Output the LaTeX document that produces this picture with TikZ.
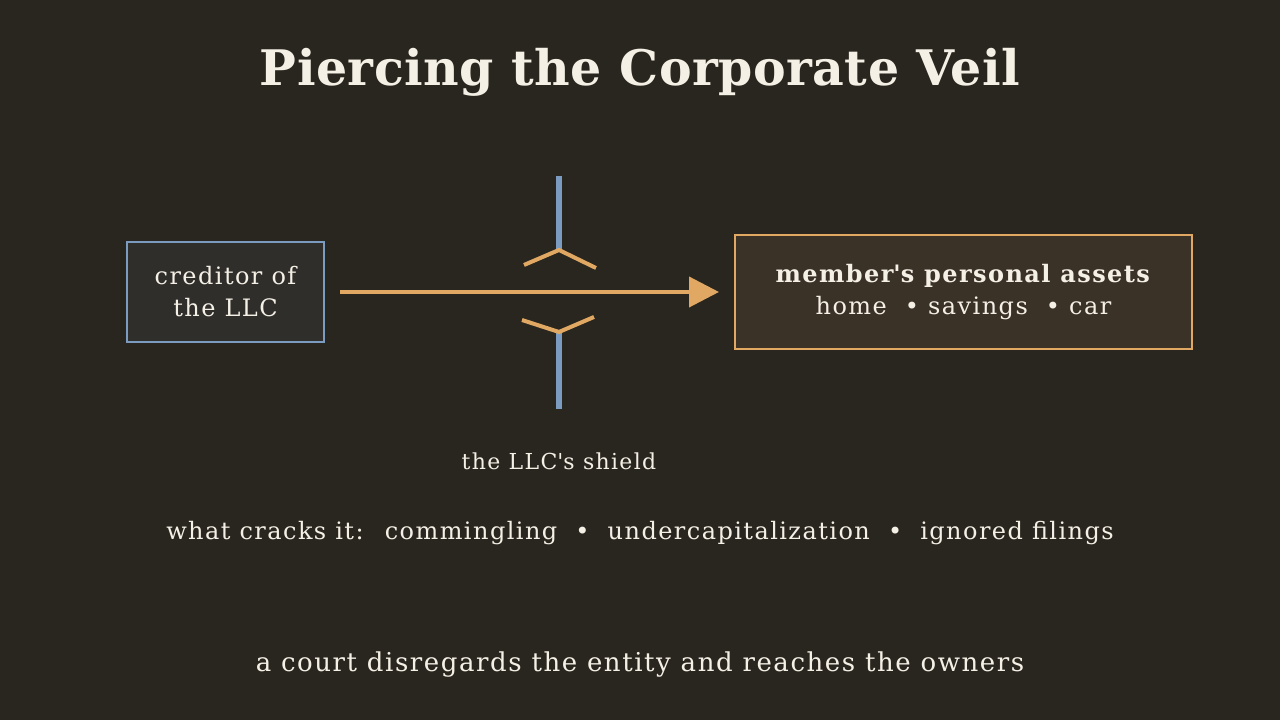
\documentclass[tikz,border=0pt]{standalone}
\usepackage{fontspec}
\setmainfont{DejaVu Serif}[LetterSpace=6]
\usetikzlibrary{arrows.meta}
\definecolor{bg}{HTML}{29261F}
\definecolor{fg}{HTML}{F5F0E6}
\definecolor{blu}{HTML}{7B9CC0}
\definecolor{org}{HTML}{E0A862}
\definecolor{lbox}{HTML}{2F2E2B}
\definecolor{rbox}{HTML}{3A3127}
\begin{document}
\begin{tikzpicture}[x=1pt,y=1pt,
  txt/.style={text=fg,font=\fontsize{24}{32}\selectfont,align=center},
  shield/.style={draw=blu,line width=6pt},
  crack/.style={draw=org,line width=4pt}]
\fill[bg] (0,0) rectangle (1280,720);
\useasboundingbox (0,0) rectangle (1280,720);
\node[text=fg,font=\fontsize{49}{56}\selectfont\addfontfeature{LetterSpace=1}\bfseries] (title) at (640,648) {Piercing the Corporate Veil};
\node[txt,draw=blu,line width=2pt,fill=lbox,minimum width=197pt,minimum height=100pt,inner sep=0pt] (cred) at (225.5,428) {creditor of\\the LLC};
\node[txt,draw=org,line width=2pt,fill=rbox,minimum width=457pt,minimum height=114pt,inner sep=0pt] (assets) at (963.5,428) {\textbf{member\textquotesingle s personal assets}\\home \ •\ savings \ •\ car};
\coordinate (a0) at (340,428);
\draw[org,line width=4pt,-{Triangle[length=30pt,width=30pt]},shorten >=15pt] (a0) -- (assets.west);
\coordinate (s1) at (559,544); \coordinate (s2) at (559,470);
\coordinate (s3) at (559,388); \coordinate (s4) at (559,311);
\draw[shield] (s1) -- (s2);
\draw[shield] (s3) -- (s4);
\coordinate (c1) at (524,455); \coordinate (c2) at (596,452);
\coordinate (c3) at (522,400); \coordinate (c4) at (594,403);
\draw[crack] (c1) -- (s2) -- (c2);
\draw[crack] (c3) -- (s3) -- (c4);
\node[txt,font=\fontsize{22}{26}\selectfont] (lab) at (559,259) {the LLC\textquotesingle s shield};
\node[txt] (cracks) at (640,187) {what cracks it: \ commingling \ • \ undercapitalization \ • \ ignored filings};
\node[txt,font=\fontsize{26}{30}\selectfont] (court) at (640,55) {a court disregards the entity and reaches the owners};
\end{tikzpicture}
\end{document}
